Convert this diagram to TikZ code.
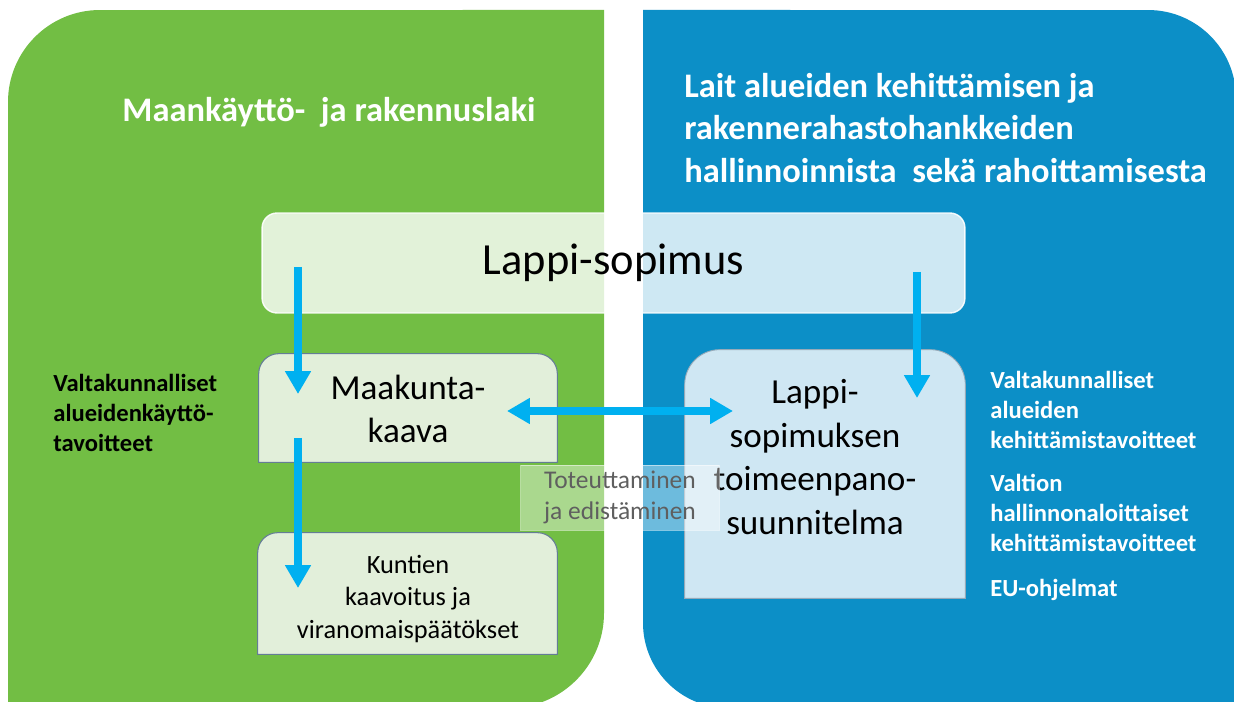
\documentclass[tikz,border=0pt]{standalone}
\usepackage{fontspec}
\setmainfont{Carlito}
\usetikzlibrary{arrows.meta,backgrounds}
\definecolor{lakigreen}{RGB}{114,190,68}
\definecolor{lakiblue}{RGB}{12,143,199}
\definecolor{flowblue}{RGB}{0,176,240}
\definecolor{kaavafill}{RGB}{226,239,218}
\definecolor{kaavaline}{RGB}{100,125,150}
\definecolor{toimfill}{RGB}{207,231,243}
\definecolor{toimline}{RGB}{150,170,185}
\definecolor{notegray}{RGB}{95,95,95}
\tikzset{
  flow/.style={draw=flowblue,line width=4pt,>={Triangle[length=13pt,width=14pt]},->},
  lawtitle/.style={text=white,font=\bfseries\fontsize{19.6}{24.4}\selectfont,align=left,inner sep=0pt},
  sidenote/.style={font=\bfseries\fontsize{14}{17}\selectfont,align=left,anchor=west,inner sep=0pt},
  planbox/.style={inner sep=0pt,align=center},
}
\begin{document}
\begin{tikzpicture}[x=0.02cm,y=-0.02cm]
        \useasboundingbox (0,0) rectangle (1234,702);
        %% Panels
        \begin{scope}[on background layer]
          \fill[white] (0,0) rectangle (1234,702);
          \fill[lakigreen] (8,708) -- (8,102) arc[start angle=180,end angle=90,radius=1.84cm] -- (604,10) -- (604,613) arc[start angle=0,end angle=-90,radius=1.9cm] -- cycle;
          \fill[lakiblue] (1236,708) -- (1236,98) arc[start angle=0,end angle=90,radius=1.76cm] -- (643,10) -- (643,623) arc[start angle=180,end angle=270,radius=1.7cm] -- cycle;
        \end{scope}
        %% Titles
        \node[lawtitle] (mrl) at (329,112) {Maankäyttö-~ ja rakennuslaki};
        \node[lawtitle,anchor=west] (alk) at (684,128) {Lait alueiden kehittämisen ja\\rakennerahastohankkeiden\\hallinnoinnista~ sekä rahoittamisesta};
        %% Boxes
        \node[planbox,fill=white,fill opacity=0.8,text opacity=1,draw=white,draw opacity=0.9,line width=0.8pt,rounded corners=0.3cm,minimum width=14.06cm,minimum height=2cm,font=\fontsize{25.3}{30}\selectfont] (lappi) at (613.5,263) {Lappi-sopimus};
        \node[planbox,minimum width=5.96cm,minimum height=2.2cm,font=\fontsize{20}{24.4}\selectfont] (maak) at (408,409) {Maakunta-\\kaava};
        \node[planbox,minimum width=5.98cm,minimum height=2.42cm] (kunt) at (407.5,593.5) {};
        \node[planbox,font=\fontsize{15}{18.7}\selectfont] (kunttext) at (408,599) {Kuntien\\kaavoitus ja\\viranomaispäätökset};
        \node[planbox,minimum width=5.6cm,minimum height=4.96cm] (toim) at (825,474) {};
        \node[planbox,font=\fontsize{20}{24.8}\selectfont] (toimtext) at (815,457) {Lappi-\\sopimuksen\\toimeenpano-\\suunnitelma};
        \begin{scope}[on background layer]
          \filldraw[fill=kaavafill,draw=kaavaline,line width=0.6pt] ([yshift=0.04cm]maak.south west) -- ([yshift=-0.4cm]maak.north west) arc[start angle=180,end angle=90,radius=0.4cm] -- ([xshift=-0.4cm]maak.north east) arc[start angle=90,end angle=0,radius=0.4cm] -- ([yshift=0.04cm]maak.south east) -- cycle;
          \filldraw[fill=kaavafill,draw=kaavaline,line width=0.6pt] (kunt.south west) -- ([yshift=-0.4cm]kunt.north west) arc[start angle=180,end angle=90,radius=0.4cm] -- ([xshift=-0.4cm]kunt.north east) arc[start angle=90,end angle=0,radius=0.4cm] -- (kunt.south east) -- cycle;
          \filldraw[fill=toimfill,draw=toimline,line width=0.5pt] (toim.south west) -- ([yshift=-0.7cm]toim.north west) arc[start angle=180,end angle=90,radius=0.7cm] -- ([xshift=-0.7cm]toim.north east) arc[start angle=90,end angle=0,radius=0.7cm] -- (toim.south east) -- cycle;
        \end{scope}
        %% Side notes
        \node[sidenote] (vat) at (53,413) {Valtakunnalliset\\alueidenkäyttö-\\tavoitteet};
        \node[sidenote,text=white] (vak) at (990,410) {Valtakunnalliset\\alueiden\\kehittämistavoitteet};
        \node[sidenote,text=white] (vhk) at (990,513) {Valtion\\hallinnonaloittaiset\\kehittämistavoitteet};
        \node[sidenote,text=white] (euo) at (990,590) {EU-ohjelmat};
        \node[planbox,fill=white,fill opacity=0.4,text opacity=1,draw=white,draw opacity=0.5,text=notegray,align=left,minimum width=3.98cm,minimum height=1.3cm,font=\fontsize{14.5}{17.6}\selectfont] (tote) at (620,497.5) {Toteuttaminen\\ja edistäminen};
        %% Arrows
        \coordinate (lappiL) at (298,267);
        \coordinate (maakT) at (298,394);
        \coordinate (maakB) at (298,438);
        \coordinate (kuntT) at (298,588);
        \coordinate (lappiR) at (917,272);
        \coordinate (toimT) at (917,398);
        \coordinate (maakR) at (507,411);
        \coordinate (toimL) at (733,411);
        \draw[flow] (lappiL) -- (maakT);
        \draw[flow] (maakB) -- (kuntT);
        \draw[flow] (lappiR) -- (toimT);
        \draw[flow,<->] (maakR) -- (toimL);
    \end{tikzpicture}
\end{document}
